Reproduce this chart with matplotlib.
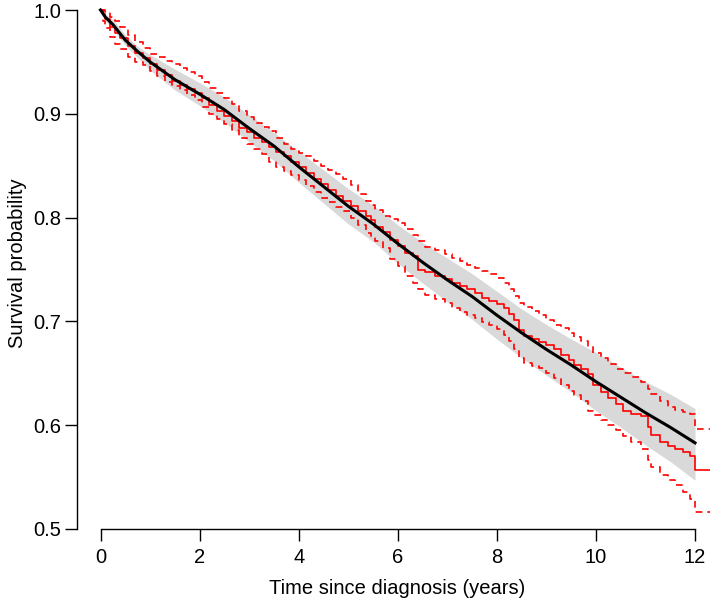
import numpy as np
import matplotlib
matplotlib.use("Agg")
import matplotlib.pyplot as plt

plt.rcParams['font.family'] = ['Liberation Sans', 'DejaVu Sans']

# fitted (model) survival curve with its confidence band
fit_time = [0.0, 0.1, 0.25, 0.5, 0.75, 1.0, 1.5, 2.0, 2.5, 3.0, 3.5, 4.0, 4.5, 5.0,
            5.5, 6.0, 6.5, 7.0, 7.5, 8.0, 8.5, 9.0, 9.5, 10.0, 10.5, 11.0, 11.5, 12.0]
fit_surv = [1.000, 0.993, 0.986, 0.971, 0.960, 0.950, 0.933, 0.919, 0.904, 0.886,
            0.869, 0.849, 0.830, 0.811, 0.794, 0.775, 0.757, 0.740, 0.724, 0.706,
            0.689, 0.673, 0.658, 0.642, 0.627, 0.612, 0.598, 0.583]
fit_lower = [1.000, 0.990, 0.981, 0.966, 0.954, 0.942, 0.923, 0.908, 0.892, 0.873,
             0.855, 0.834, 0.814, 0.794, 0.777, 0.756, 0.737, 0.719, 0.702, 0.683,
             0.665, 0.648, 0.632, 0.614, 0.598, 0.581, 0.565, 0.547]
fit_upper = [1.000, 0.996, 0.991, 0.976, 0.965, 0.957, 0.943, 0.930, 0.916, 0.899,
             0.882, 0.864, 0.846, 0.828, 0.812, 0.793, 0.776, 0.761, 0.746, 0.729,
             0.712, 0.697, 0.683, 0.670, 0.656, 0.642, 0.630, 0.616]

# Kaplan-Meier estimate (step function) with pointwise confidence limits
km_time = [0.00, 0.05, 0.10, 0.20, 0.30, 0.40, 0.55, 0.70, 0.85, 1.00, 1.15, 1.30,
           1.45, 1.60, 1.75, 1.90, 2.05, 2.20, 2.35, 2.50, 2.65, 2.80, 2.95, 3.10,
           3.25, 3.40, 3.55, 3.70, 3.85, 4.00, 4.15, 4.30, 4.45, 4.60, 4.75, 4.90,
           5.05, 5.20, 5.35, 5.45, 5.55, 5.70, 5.85, 6.00, 6.15, 6.30, 6.40, 6.55,
           6.75, 6.95, 7.10, 7.25, 7.40, 7.55, 7.70, 7.85, 8.00, 8.15, 8.25, 8.35,
           8.45, 8.55, 8.70, 8.85, 9.00, 9.15, 9.30, 9.45, 9.55, 9.70, 9.85, 9.95,
           10.10, 10.25, 10.40, 10.55, 10.70, 10.90, 11.05, 11.12, 11.30, 11.45,
           11.60, 11.75, 11.90, 12.00, 12.40]
km_surv = [1.000, 0.996, 0.991, 0.984, 0.978, 0.973, 0.965, 0.959, 0.954, 0.948,
           0.942, 0.937, 0.932, 0.928, 0.924, 0.920, 0.915, 0.908, 0.903, 0.898,
           0.893, 0.886, 0.882, 0.877, 0.873, 0.868, 0.863, 0.859, 0.854, 0.849,
           0.843, 0.837, 0.832, 0.827, 0.821, 0.816, 0.811, 0.806, 0.802, 0.798,
           0.791, 0.786, 0.778, 0.773, 0.766, 0.763, 0.750, 0.748, 0.744, 0.741,
           0.737, 0.734, 0.731, 0.727, 0.723, 0.720, 0.717, 0.713, 0.707, 0.701,
           0.692, 0.686, 0.683, 0.680, 0.677, 0.673, 0.668, 0.663, 0.658, 0.654,
           0.649, 0.639, 0.632, 0.626, 0.620, 0.614, 0.611, 0.609, 0.598, 0.591,
           0.584, 0.580, 0.577, 0.574, 0.570, 0.557, 0.557]
km_lower = [1.000, 0.989, 0.983, 0.974, 0.967, 0.962, 0.955, 0.950, 0.947, 0.941,
            0.936, 0.931, 0.927, 0.923, 0.918, 0.913, 0.907, 0.900, 0.895, 0.890,
            0.884, 0.877, 0.871, 0.866, 0.861, 0.854, 0.849, 0.845, 0.841, 0.836,
            0.830, 0.825, 0.819, 0.815, 0.810, 0.806, 0.800, 0.793, 0.785, 0.781,
            0.777, 0.771, 0.760, 0.753, 0.744, 0.737, 0.731, 0.725, 0.722, 0.718,
            0.713, 0.709, 0.706, 0.703, 0.699, 0.697, 0.693, 0.687, 0.681, 0.673,
            0.665, 0.660, 0.657, 0.655, 0.650, 0.645, 0.639, 0.633, 0.629, 0.623,
            0.614, 0.610, 0.605, 0.600, 0.595, 0.590, 0.584, 0.577, 0.566, 0.560,
            0.552, 0.547, 0.542, 0.536, 0.529, 0.516, 0.516]
km_upper = [1.000, 1.000, 0.998, 0.993, 0.989, 0.984, 0.976, 0.969, 0.963, 0.958,
            0.955, 0.951, 0.948, 0.944, 0.940, 0.936, 0.931, 0.925, 0.920, 0.915,
            0.909, 0.903, 0.897, 0.891, 0.887, 0.883, 0.877, 0.871, 0.866, 0.862,
            0.859, 0.855, 0.850, 0.846, 0.842, 0.837, 0.831, 0.823, 0.816, 0.812,
            0.807, 0.802, 0.799, 0.795, 0.789, 0.783, 0.777, 0.772, 0.769, 0.765,
            0.761, 0.758, 0.754, 0.751, 0.749, 0.746, 0.742, 0.737, 0.731, 0.724,
            0.718, 0.714, 0.710, 0.706, 0.701, 0.697, 0.694, 0.689, 0.685, 0.681,
            0.676, 0.670, 0.665, 0.659, 0.654, 0.650, 0.646, 0.642, 0.635, 0.630,
            0.623, 0.618, 0.615, 0.613, 0.611, 0.596, 0.596]

x_ticks = [0, 2, 4, 6, 8, 10, 12]
y_ticks = [0.5, 0.6, 0.7, 0.8, 0.9, 1.0]

W, H = 710, 603
fig = plt.figure(figsize=(W / 100, H / 100), dpi=100)

# pixel anchors of the reference plot region
x0_px, x12_px = 100.5, 695.0
y1_px, y05_px = 10.0, 529.0
left_px, bottom_px = 77.0, 529.0

ax = fig.add_axes([left_px / W, (H - bottom_px) / H, 1 - left_px / W, bottom_px / H])
ppx = (x12_px - x0_px) / 12.0
ppy = (y05_px - y1_px) / 0.5
ax.set_xlim((left_px - x0_px) / ppx, (W - x0_px) / ppx)
ax.set_ylim(1.0 - (bottom_px - y1_px) / ppy, 1.0 + y1_px / ppy)

ax.fill_between(fit_time, fit_lower, fit_upper, color='#d9d9d9', linewidth=0, zorder=1)
ax.step(km_time, km_surv, where='post', color='red', lw=1.2, zorder=3)
ax.step(km_time, km_lower, where='post', color='red', lw=1.2, ls=(0, (4, 3)), zorder=3)
ax.step(km_time, km_upper, where='post', color='red', lw=1.2, ls=(0, (4, 3)), zorder=3)
ax.plot(fit_time, fit_surv, color='black', lw=2.2, zorder=4)

for s in ['top', 'right']:
    ax.spines[s].set_visible(False)
ax.spines['bottom'].set_bounds(0, 12)
ax.spines['left'].set_bounds(0.5, 1.0)
for s in ['bottom', 'left']:
    ax.spines[s].set_linewidth(1.0)

ax.set_xticks(x_ticks)
ax.set_xticklabels([str(v) for v in x_ticks])
ax.set_yticks(y_ticks)
ax.set_yticklabels(['%.1f' % v for v in y_ticks])
ax.tick_params(axis='x', length=8.6, width=1.0, labelsize=14.5, pad=5)
ax.tick_params(axis='y', length=8.6, width=1.0, labelsize=14.5, pad=3)

ax.set_xlabel('Time since diagnosis (years)', fontsize=14.5, va='center')
ax.set_ylabel('Survival probability', fontsize=14.5, va='center')
ax.xaxis.set_label_coords((397.5 - left_px) / (W - left_px), (bottom_px - 589) / bottom_px)
ax.yaxis.set_label_coords((18 - left_px) / (W - left_px), (bottom_px - 263) / bottom_px)

fig.savefig('out.png', dpi=100)
